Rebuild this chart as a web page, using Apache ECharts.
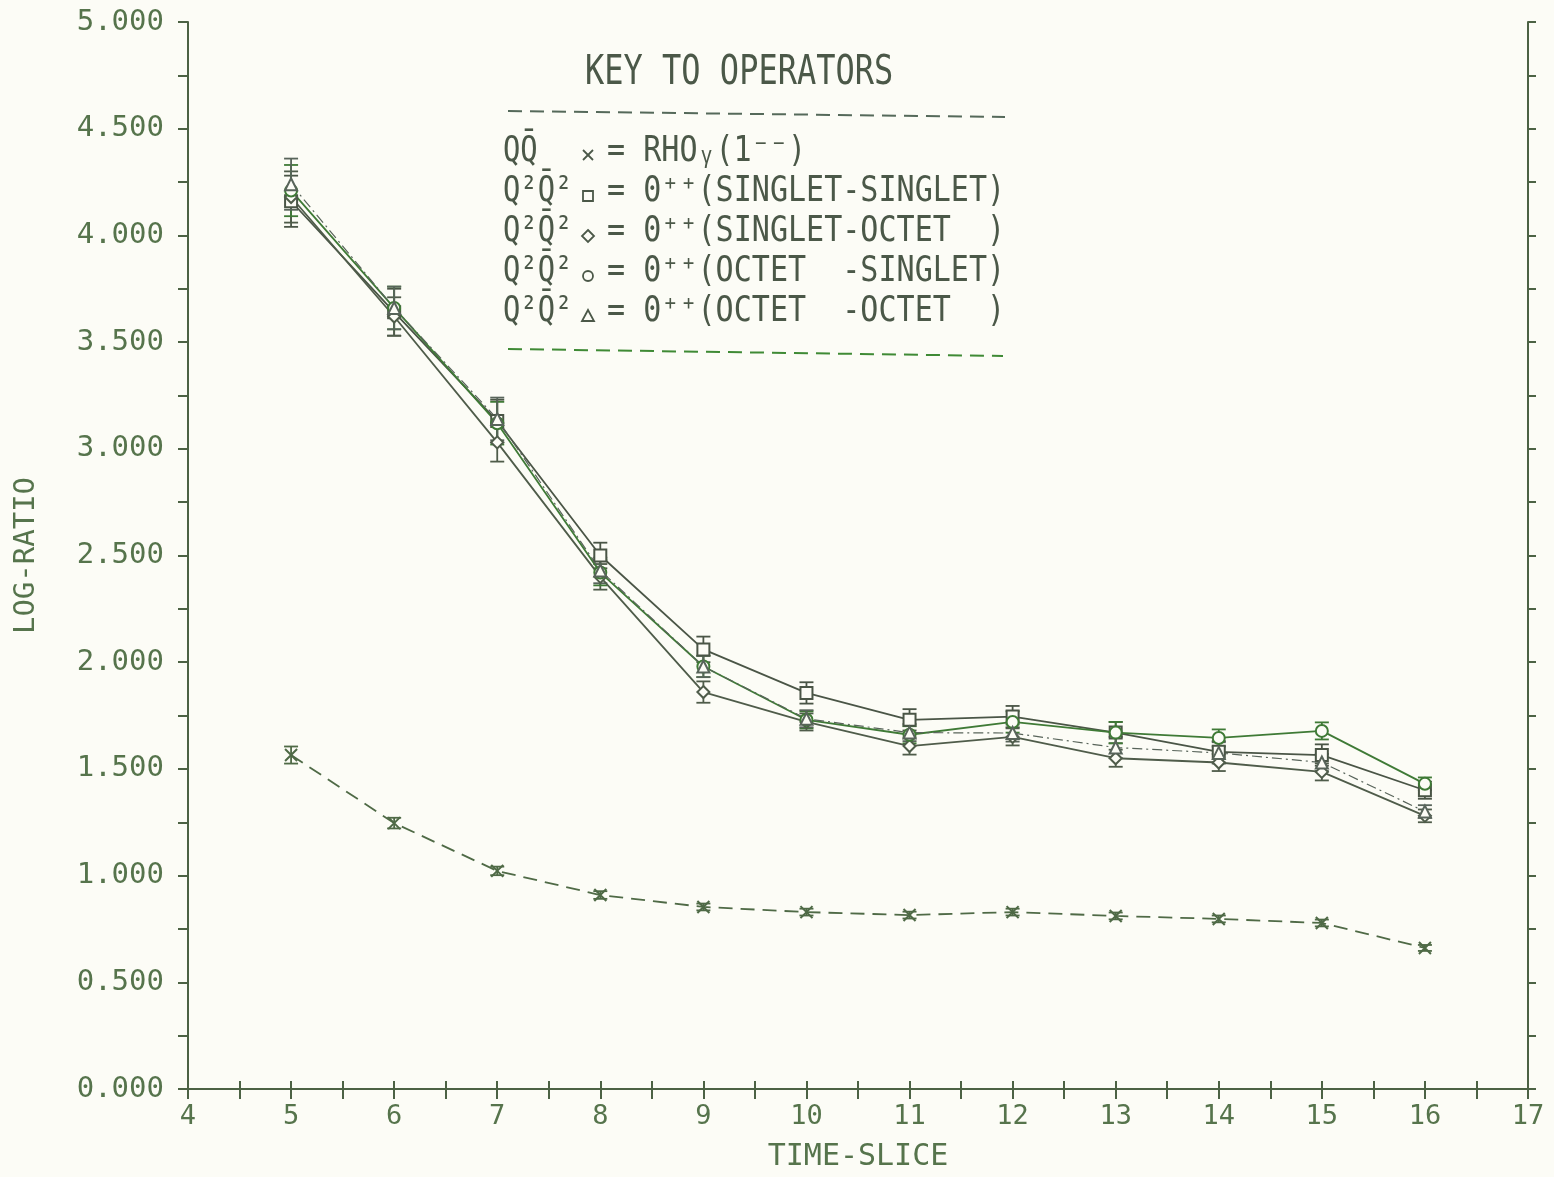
<!DOCTYPE html>
<html><head><meta charset="utf-8">
<script src="https://cdn.jsdelivr.net/npm/echarts@6/dist/echarts.min.js"></script>
<style>html,body{margin:0;padding:0;background:#fcfcf6}#c{width:1554px;height:1177px}</style>
</head><body><div id="c"></div>
<script>
// ---- data ----
const timeSlices = [5, 6, 7, 8, 9, 10, 11, 12, 13, 14, 15, 16];
// QQbar  x = RHO_gamma (1--)
const rhoVals = [1.565, 1.246, 1.022, 0.909, 0.853, 0.829, 0.815, 0.829, 0.811, 0.797, 0.778, 0.661];
const rhoErr  = [0.040, 0.025, 0.020, 0.018, 0.016, 0.016, 0.016, 0.016, 0.016, 0.016, 0.016, 0.014];
// Q2Q2bar square = 0++ (SINGLET-SINGLET)
const ssVals = [4.16, 3.64, 3.13, 2.50, 2.06, 1.856, 1.73, 1.745, 1.67, 1.58, 1.565, 1.40];
const ssErr  = [0.12, 0.11, 0.10, 0.06, 0.06, 0.05, 0.05, 0.05, 0.05, 0.05, 0.05, 0.04];
// Q2Q2bar diamond = 0++ (SINGLET-OCTET)
const soVals = [4.18, 3.62, 3.03, 2.40, 1.86, 1.72, 1.607, 1.65, 1.55, 1.53, 1.486, 1.28];
const soErr  = [0.12, 0.09, 0.09, 0.06, 0.05, 0.04, 0.04, 0.04, 0.04, 0.04, 0.04, 0.03];
// Q2Q2bar circle = 0++ (OCTET-SINGLET)
const osVals = [4.21, 3.66, 3.12, 2.42, 1.98, 1.73, 1.66, 1.72, 1.67, 1.645, 1.678, 1.43];
const osErr  = [0.12, 0.10, 0.10, 0.06, 0.05, 0.04, 0.04, 0.05, 0.05, 0.04, 0.04, 0.03];
// Q2Q2bar triangle = 0++ (OCTET-OCTET)
const ooVals = [4.24, 3.66, 3.14, 2.43, 1.98, 1.735, 1.67, 1.668, 1.60, 1.575, 1.53, 1.30];
const ooErr  = [0.12, 0.10, 0.10, 0.06, 0.05, 0.04, 0.04, 0.04, 0.05, 0.05, 0.04, 0.03];

const legendTitle = 'KEY TO OPERATORS';
const legendLeft = ['QQ\u0304', 'Q\u00B2Q\u0304\u00B2', 'Q\u00B2Q\u0304\u00B2', 'Q\u00B2Q\u0304\u00B2', 'Q\u00B2Q\u0304\u00B2'];
const legendRight = ['= RHO\u1D67(1\u207B\u207B)', '= 0\u207A\u207A(SINGLET-SINGLET)', '= 0\u207A\u207A(SINGLET-OCTET  )', '= 0\u207A\u207A(OCTET  -SINGLET)', '= 0\u207A\u207A(OCTET  -OCTET  )'];

// ---- styling ----
const axisCol = '#4c6244';
const labelCol = '#56744c';
const textCol = '#4b5848';
const cRho = '#4f6a46', cSS = '#4a5546', cSO = '#4f5c4a', cOS = '#3f7a36', cOO = '#58645a';
const FONT = '"DejaVu Sans Mono", "Liberation Mono", monospace';

function pairs(v) { return timeSlices.map((t, i) => [t, v[i]]); }
function errData(v, e) { return timeSlices.map((t, i) => [t, v[i], e[i]]); }
function errSeries(v, e, color) {
  return {
    type: 'custom', silent: true, z: 3,
    encode: { x: 0, y: 1 },
    data: errData(v, e),
    renderItem: function (params, api) {
      const x = api.value(0), y = api.value(1), er = api.value(2);
      const a = api.coord([x, y - er]), b = api.coord([x, y + er]);
      const w = 7;
      const st = { stroke: color, lineWidth: 1.8 };
      return { type: 'group', children: [
        { type: 'line', shape: { x1: a[0], y1: a[1], x2: b[0], y2: b[1] }, style: st },
        { type: 'line', shape: { x1: a[0] - w, y1: a[1], x2: a[0] + w, y2: a[1] }, style: st },
        { type: 'line', shape: { x1: b[0] - w, y1: b[1], x2: b[0] + w, y2: b[1] }, style: st }
      ]};
    }
  };
}
function lineSeries(name, v, color, symbol, lineType, width) {
  return {
    name: name, type: 'line', data: pairs(v), symbol: symbol, symbolSize: 12,
    lineStyle: { color: color, width: width, type: lineType },
    itemStyle: { color: '#fcfcf6', borderColor: color, borderWidth: 2 },
    z: 4, animation: false
  };
}
const crossPath = 'path://M0,0L10,10M10,0L0,10';

const chart = echarts.init(document.getElementById('c'), null, { renderer: 'canvas' });

// legend graphics
const gfx = [];
gfx.push({ type: 'text', x: 585, y: 74, scaleX: 0.8, style: { text: legendTitle, font: '40px ' + FONT, fill: textCol, verticalAlign: 'middle' } });
gfx.push({ type: 'line', shape: { x1: 508, y1: 111, x2: 1005, y2: 117 }, style: { stroke: '#55695a', lineWidth: 2, lineDash: [14, 8] } });
gfx.push({ type: 'line', shape: { x1: 508, y1: 349, x2: 1003, y2: 356 }, style: { stroke: '#3f8a35', lineWidth: 2, lineDash: [14, 8] } });
const rowY = [152, 192, 232, 272, 312];
for (let i = 0; i < 5; i++) {
  gfx.push({ type: 'text', x: 503, y: rowY[i], scaleX: 0.8, style: { text: legendLeft[i], font: '36px ' + FONT, fill: textCol, verticalAlign: 'middle' } });
  gfx.push({ type: 'text', x: 607, y: rowY[i], scaleX: 0.835, style: { text: legendRight[i], font: '36px ' + FONT, fill: textCol, verticalAlign: 'middle' } });
}
const sx = 588, sst = { stroke: textCol, lineWidth: 1.8, fill: null };
gfx.push({ type: 'line', shape: { x1: sx - 5, y1: rowY[0] - 2, x2: sx + 5, y2: rowY[0] + 8 }, style: sst });
gfx.push({ type: 'line', shape: { x1: sx + 5, y1: rowY[0] - 2, x2: sx - 5, y2: rowY[0] + 8 }, style: sst });
gfx.push({ type: 'rect', shape: { x: sx - 5, y: rowY[1] - 1, width: 10, height: 10 }, style: sst });
gfx.push({ type: 'polygon', shape: { points: [[sx, rowY[2] - 2], [sx + 6, rowY[2] + 4], [sx, rowY[2] + 10], [sx - 6, rowY[2] + 4]] }, style: sst });
gfx.push({ type: 'circle', shape: { cx: sx, cy: rowY[3] + 4, r: 5 }, style: sst });
gfx.push({ type: 'polygon', shape: { points: [[sx, rowY[4] - 2], [sx + 6, rowY[4] + 9], [sx - 6, rowY[4] + 9]] }, style: sst });

const option = {
  backgroundColor: '#fcfcf6',
  animation: false,
  grid: { left: 188, right: 26, top: 22, bottom: 88, show: false },
  xAxis: [
    {
      type: 'value', min: 4, max: 17, interval: 1, position: 'bottom',
      name: 'TIME-SLICE', nameLocation: 'middle', nameGap: 53,
      nameTextStyle: { color: labelCol, fontSize: 30, fontFamily: FONT },
      axisLine: { show: true, lineStyle: { color: axisCol, width: 2 } },
      axisTick: { show: true, inside: false, length: 10, lineStyle: { color: axisCol, width: 2 } },
      minorTick: { show: true, splitNumber: 2, length: 10, lineStyle: { color: axisCol, width: 2 } },
      axisLabel: { color: labelCol, fontSize: 27, fontFamily: FONT, margin: 14 },
      splitLine: { show: false }
    },
    {
      type: 'value', min: 4, max: 17, interval: 1, position: 'top',
      axisLine: { show: true, lineStyle: { color: axisCol, width: 2 } },
      axisTick: { show: true, inside: false, length: 8, lineStyle: { color: axisCol, width: 2 } },
      minorTick: { show: true, splitNumber: 2, length: 8, lineStyle: { color: axisCol, width: 2 } },
      axisLabel: { show: false }, splitLine: { show: false }
    }
  ],
  yAxis: [
    {
      type: 'value', min: 0, max: 5, interval: 0.5, position: 'left',
      name: 'LOG-RATIO', nameLocation: 'middle', nameGap: 147,
      nameTextStyle: { color: labelCol, fontSize: 29, fontFamily: FONT },
      axisLine: { show: true, lineStyle: { color: axisCol, width: 2 } },
      axisTick: { show: true, inside: false, length: 10, lineStyle: { color: axisCol, width: 2 } },
      minorTick: { show: true, splitNumber: 2, length: 10, lineStyle: { color: axisCol, width: 2 } },
      axisLabel: { color: labelCol, fontSize: 29, fontFamily: FONT, margin: 24, formatter: v => v.toFixed(3) },
      splitLine: { show: false }
    },
    {
      type: 'value', min: 0, max: 5, interval: 0.5, position: 'right',
      axisLine: { show: true, lineStyle: { color: axisCol, width: 2 } },
      axisTick: { show: true, inside: false, length: 8, lineStyle: { color: axisCol, width: 2 } },
      minorTick: { show: true, splitNumber: 2, length: 8, lineStyle: { color: axisCol, width: 2 } },
      axisLabel: { show: false }, splitLine: { show: false }
    }
  ],
  series: [
    lineSeries('RHO', rhoVals, cRho, crossPath, [14, 8], 1.8),
    errSeries(rhoVals, rhoErr, cRho),
    lineSeries('SINGLET-SINGLET', ssVals, cSS, 'rect', 'solid', 1.8),
    errSeries(ssVals, ssErr, cSS),
    lineSeries('SINGLET-OCTET', soVals, cSO, 'diamond', 'solid', 1.8),
    errSeries(soVals, soErr, cSO),
    lineSeries('OCTET-SINGLET', osVals, cOS, 'circle', 'solid', 1.8),
    errSeries(osVals, osErr, cOS),
    lineSeries('OCTET-OCTET', ooVals, cOO, 'triangle', [10, 4, 2, 4], 1.2),
    errSeries(ooVals, ooErr, cOO)
  ],
  graphic: gfx
};
chart.setOption(option);
</script>
</body></html>
